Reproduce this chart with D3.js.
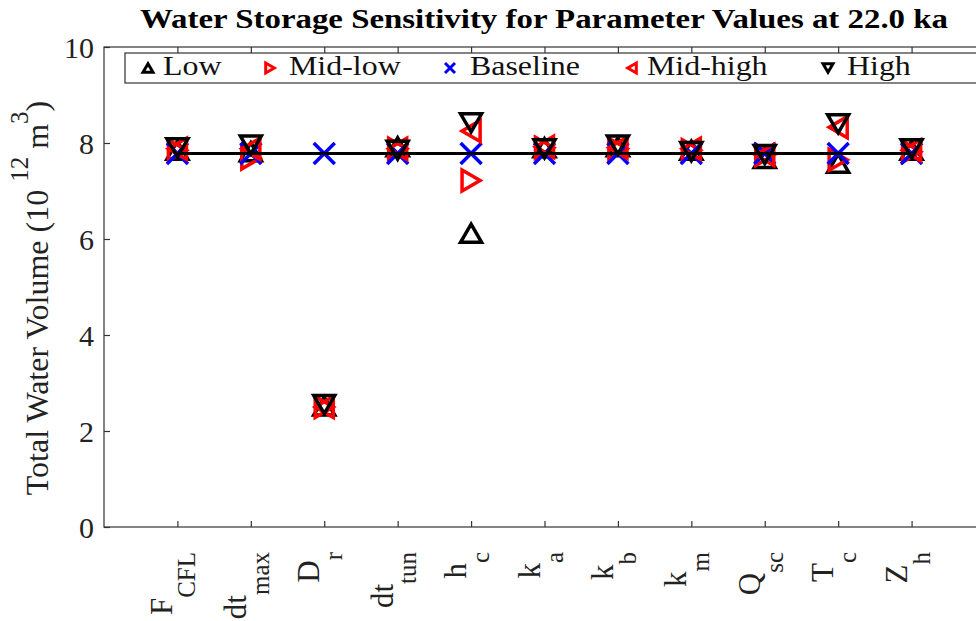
<!DOCTYPE html>
<html>
<head>
<meta charset="utf-8">
<script src="https://cdn.jsdelivr.net/npm/d3@7"></script>
<style>
  html, body { margin: 0; padding: 0; background: #fff; }
  svg { display: block; }
</style>
</head>
<body>
<svg id="chart" width="976" height="621"></svg>
<script>
// ---- data ----
const categories = ["F_CFL", "dt_max", "D_r", "dt_tun", "h_c", "k_a", "k_b", "k_m", "Q_sc", "T_c", "Z_h"];
const catMain = ["F", "dt", "D", "dt", "h", "k", "k", "k", "Q", "T", "Z"];
const catSub  = ["CFL", "max", "r", "tun", "c", "a", "b", "m", "sc", "c", "h"];
const seriesNames = ["Low", "Mid-low", "Baseline", "Mid-high", "High"];
const lowVals      = [7.85, 7.82, 2.52, 7.92, 6.12, 7.90, 7.92, 7.85, 7.68, 7.58, 7.85];
const midLowVals   = [7.85, 7.68, 2.50, 7.88, 7.22, 7.90, 7.88, 7.85, 7.75, 7.65, 7.82];
const baselineVals = [7.78, 7.78, 7.78, 7.78, 7.78, 7.78, 7.78, 7.78, 7.78, 7.78, 7.78];
const midHighVals  = [7.88, 7.88, 2.50, 7.88, 8.25, 7.92, 7.90, 7.88, 7.75, 8.33, 7.85];
const highVals     = [7.90, 7.96, 2.55, 7.85, 8.42, 7.88, 7.96, 7.82, 7.76, 8.40, 7.88];
const yTicks = [0, 2, 4, 6, 8, 10];
const titleText = "Water Storage Sensitivity for Parameter Values at 22.0 ka";

const series = [
  { name: seriesNames[0], values: lowVals,      shape: "up",    color: "#000000" },
  { name: seriesNames[1], values: midLowVals,   shape: "right", color: "#ff0000" },
  { name: seriesNames[2], values: baselineVals, shape: "x",     color: "#0000ff" },
  { name: seriesNames[3], values: midHighVals,  shape: "left",  color: "#ff0000" },
  { name: seriesNames[4], values: highVals,     shape: "down",  color: "#000000" }
];

const FONT = '"Liberation Serif"';

// ---- layout ----
const svg = d3.select("#chart");
const L = 104, R = 985, T = 47, B = 527;
const x = d3.scaleLinear().domain([0, categories.length + 1]).range([L, R]);
const y = d3.scaleLinear().domain([0, 10]).range([B, T]);
const axisColor = "#333";

function markerPath(shape, s) {
  const h = s / 2, k = s * 0.43;
  switch (shape) {
    case "up":    return `M0,${-k}L${h},${k}L${-h},${k}Z`;
    case "down":  return `M0,${k}L${h},${-k}L${-h},${-k}Z`;
    case "right": return `M${k},0L${-k},${-h}L${-k},${h}Z`;
    case "left":  return `M${-k},0L${k},${-h}L${k},${h}Z`;
    case "x":     return `M${-h},${-h}L${h},${h}M${-h},${h}L${h},${-h}`;
  }
}

// axes box
const g = svg.append("g");
g.append("rect").attr("x", L).attr("y", T).attr("width", R - L).attr("height", B - T)
  .attr("fill", "none").attr("stroke", axisColor).attr("stroke-width", 1.2);

// x axis (bottom and top, inward ticks)
const xTickVals = d3.range(1, categories.length + 1);
const xAxisB = d3.axisBottom(x).tickValues(xTickVals).tickSize(-6).tickFormat("");
const xAxisT = d3.axisTop(x).tickValues(xTickVals).tickSize(-6).tickFormat("");
g.append("g").attr("transform", `translate(0,${B})`).call(xAxisB)
  .call(s => s.select(".domain").remove())
  .call(s => s.selectAll("line").attr("stroke", axisColor).attr("stroke-width", 1.2));
g.append("g").attr("transform", `translate(0,${T})`).call(xAxisT)
  .call(s => s.select(".domain").remove())
  .call(s => s.selectAll("line").attr("stroke", axisColor).attr("stroke-width", 1.2));

// y axis
const yAxis = d3.axisLeft(y).tickValues(yTicks).tickSize(-6).tickPadding(10).tickFormat(d3.format("d"));
g.append("g").attr("transform", `translate(${L},0)`).call(yAxis)
  .call(s => s.select(".domain").remove())
  .call(s => s.selectAll("line").attr("stroke", axisColor).attr("stroke-width", 1.2))
  .call(s => s.selectAll("text").style("font-family", FONT).attr("font-size", 30)
    .attr("fill", "#222").attr("dy", "0.34em"));

// x tick labels (rotated, with subscripts)
const xl = g.append("g");
categories.forEach((c, i) => {
  const cx = x(i + 1);
  const t = xl.append("text")
    .attr("transform", `translate(${cx - 5},552) rotate(-90)`)
    .style("font-family", FONT)
    .attr("text-anchor", "end").attr("font-size", 31).attr("fill", "#222");
  t.append("tspan").text(catMain[i]);
  t.append("tspan").attr("dy", 23).attr("font-size", 25).text(catSub[i]);
});

// y label
const yl = g.append("text")
  .attr("transform", `translate(48,298) rotate(-90)`)
  .style("font-family", FONT)
  .attr("text-anchor", "middle").attr("font-size", 32).attr("fill", "#222");
yl.append("tspan").text("Total Water Volume (10 ");
yl.append("tspan").attr("dy", -20).attr("font-size", 25).text("12");
yl.append("tspan").attr("dy", 20).text(" m");
yl.append("tspan").attr("dy", -20).attr("font-size", 25).text("3");
yl.append("tspan").attr("dy", 20).text(")");

// title
const title = svg.append("text").attr("x", 544).attr("y", 28).attr("text-anchor", "middle")
  .style("font-family", FONT)
  .attr("font-size", 27).attr("font-weight", "bold").attr("fill", "#000")
  .text(titleText);
title.attr("textLength", 808).attr("lengthAdjust", "spacingAndGlyphs");

// markers
const plot = g.append("g");
series.forEach(s => {
  plot.append("g").selectAll("path").data(s.values).join("path")
    .attr("transform", (d, i) => `translate(${x(i + 1)},${y(d)})`)
    .attr("d", markerPath(s.shape, 21))
    .attr("fill", "none").attr("stroke", s.color).attr("stroke-width", 3.5)
    .attr("stroke-linejoin", "miter");
});

// baseline line
const line = d3.line().x((d, i) => x(i + 1)).y(d => y(d));
plot.append("path").datum(baselineVals).attr("d", line)
  .attr("fill", "none").attr("stroke", "#000").attr("stroke-width", 3);

// legend
const lg = svg.append("g");
lg.append("rect").attr("x", 125).attr("y", 53).attr("width", 857).attr("height", 30)
  .attr("fill", "#fff").attr("stroke", axisColor).attr("stroke-width", 1.2);
const legX = [148, 270, 450, 632, 828];
const legTextX = [163, 289, 470, 647, 847];
series.forEach((s, i) => {
  lg.append("path").attr("transform", `translate(${legX[i]},68)`)
    .attr("d", markerPath(s.shape, 10)).attr("fill", "none")
    .attr("stroke", s.color).attr("stroke-width", 3);
  lg.append("text").attr("transform", `translate(${legTextX[i]},75) scale(1.14,1)`)
    .style("font-family", FONT)
    .attr("font-size", 28).attr("fill", "#111").text(s.name);
});
</script>
</body>
</html>
